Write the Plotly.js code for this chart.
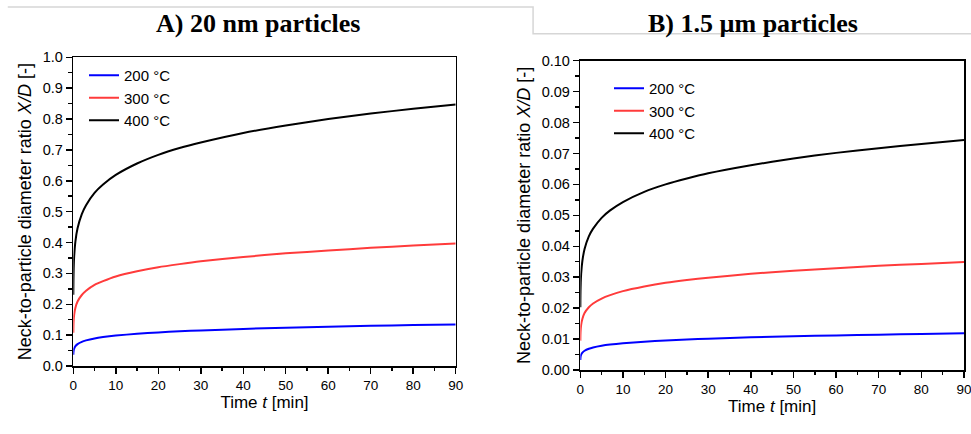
<!DOCTYPE html>
<html><head><meta charset="utf-8">
<script src="https://cdn.plot.ly/plotly-3.0.1.min.js"></script>
<style>html,body{margin:0;padding:0;background:#fff}#chart{width:971px;height:434px}</style>
</head><body><div id="chart"></div><script>
// Time [min]
const time = [0.01, 0.02, 0.05, 0.1, 0.2, 0.5, 1, 2, 3, 5, 7, 10, 15, 20, 25, 30, 40, 50, 60, 70, 80, 90];
const seriesNames = ['200 °C', '300 °C', '400 °C'];
const panelTitles = ['A) 20 nm particles', 'B) 1.5 µm particles'];
// A) 20 nm particles, X/D
const nm20_200 = [0.0367, 0.0405, 0.0462, 0.0510, 0.0563, 0.0642, 0.0709, 0.0783, 0.0829, 0.0892, 0.0936, 0.0985, 0.1044, 0.1088, 0.1123, 0.1153, 0.1201, 0.1240, 0.1273, 0.1301, 0.1326, 0.1348];
const nm20_300 = [0.108, 0.119, 0.136, 0.150, 0.166, 0.189, 0.209, 0.230, 0.244, 0.263, 0.275, 0.290, 0.307, 0.320, 0.330, 0.339, 0.353, 0.365, 0.374, 0.383, 0.390, 0.397];
const nm20_400 = [0.231, 0.255, 0.290, 0.321, 0.354, 0.404, 0.446, 0.492, 0.521, 0.561, 0.588, 0.619, 0.656, 0.684, 0.706, 0.724, 0.755, 0.779, 0.800, 0.818, 0.833, 0.847];
// B) 1.5 µm particles, X/D
const um15_200 = [0.00323, 0.00356, 0.00406, 0.00448, 0.00495, 0.00564, 0.00623, 0.00688, 0.00729, 0.00784, 0.00823, 0.00866, 0.00917, 0.00956, 0.00987, 0.01013, 0.01055, 0.01089, 0.01118, 0.01143, 0.01165, 0.01185];
const um15_300 = [0.0095, 0.0105, 0.0120, 0.0132, 0.0146, 0.0166, 0.0184, 0.0203, 0.0215, 0.0231, 0.0242, 0.0255, 0.0270, 0.0282, 0.0291, 0.0298, 0.0311, 0.0321, 0.0329, 0.0337, 0.0343, 0.0349];
const um15_400 = [0.0203, 0.0224, 0.0255, 0.0281, 0.0311, 0.0354, 0.0391, 0.0432, 0.0457, 0.0492, 0.0516, 0.0543, 0.0576, 0.0600, 0.0619, 0.0636, 0.0662, 0.0684, 0.0702, 0.0717, 0.0731, 0.0744];

const colors = ['#0000ff', '#ff3b3b', '#000000'];
const W = 971, H = 434;
const px = v => v / W, py = v => 1 - v / H;

function tr(y, i, xa, ya, lg) {
  return {x: time, y: y, name: seriesNames[i], type: 'scatter', mode: 'lines',
    line: {color: colors[i], width: 2, shape: 'spline', smoothing: 0.6},
    xaxis: xa, yaxis: ya, legend: lg, hoverinfo: 'skip'};
}
const data = [
  tr(nm20_200, 0, 'x', 'y', 'legend'), tr(nm20_300, 1, 'x', 'y', 'legend'), tr(nm20_400, 2, 'x', 'y', 'legend'),
  tr(um15_200, 0, 'x2', 'y2', 'legend2'), tr(um15_300, 1, 'x2', 'y2', 'legend2'), tr(um15_400, 2, 'x2', 'y2', 'legend2')
];

const xTickFont = {size: 13.5, color: '#000'};
const yTickFont = {size: 14.5, color: '#000'};
function xMain(dom, anchor) {
  return {domain: dom, anchor: anchor, range: [0, 90], tick0: 0, dtick: 10, ticks: 'outside', ticklen: 6, tickwidth: 1.5,
    tickcolor: '#000', linecolor: '#000', linewidth: 1.5, mirror: true, showgrid: false, zeroline: false,
    ticklabeloverflow: 'allow',
    minor: {ticks: 'outside', ticklen: 3.5, tickwidth: 1.5, tickcolor: '#000', dtick: 5, showgrid: false},
    tickfont: xTickFont, title: {text: 'Time <i>t</i> [min]', font: {size: 17, color: '#000'}, standoff: 2}};
}
function yMain(dom, anchor, top, fmt) {
  return {domain: dom, anchor: anchor, range: [0, top], tick0: 0, dtick: top / 10, tickformat: fmt, ticks: 'outside', ticklen: 6, tickwidth: 1.5,
    tickcolor: '#000', linecolor: '#000', linewidth: 1.5, mirror: true, showgrid: false, zeroline: false,
    ticklabeloverflow: 'allow',
    minor: {ticks: 'outside', ticklen: 3.5, tickwidth: 1.5, tickcolor: '#000', dtick: top / 20, showgrid: false},
    tickfont: yTickFont, title: {text: 'Neck-to-particle diameter ratio <i>X/D</i> [-]', font: {size: 18, color: '#000'}, standoff: 6}};
}
function xTop(over, anchor) {
  return {overlaying: over, anchor: anchor, side: 'top', range: [0, 90], tick0: 0, dtick: 10, ticks: 'inside', ticklen: 6, tickwidth: 1.5,
    tickcolor: '#000', showline: false, showticklabels: false, showgrid: false, zeroline: false,
    minor: {ticks: 'inside', ticklen: 3.5, tickwidth: 1.5, tickcolor: '#000', dtick: 5, showgrid: false}};
}
function yRight(over, anchor, top) {
  return {overlaying: over, anchor: anchor, side: 'right', range: [0, top], tick0: 0, dtick: top / 10, ticks: 'inside', ticklen: 6, tickwidth: 1.5,
    tickcolor: '#000', showline: false, showticklabels: false, showgrid: false, zeroline: false,
    minor: {ticks: 'inside', ticklen: 3.5, tickwidth: 1.5, tickcolor: '#000', dtick: top / 20, showgrid: false}};
}
const domA = {x: [px(73.3), px(455.7)], y: [py(366), py(57.3)]};
const domB = {x: [px(580.3), px(964)], y: [py(370), py(60.7)]};

const legendBase = {xanchor: 'left', yanchor: 'top', bgcolor: 'rgba(0,0,0,0)', borderwidth: 0,
  font: {size: 15, color: '#000'}, tracegroupgap: 0, itemwidth: 30};

const layout = {
  width: W, height: H, margin: {l: 0, r: 0, t: 0, b: 0}, paper_bgcolor: '#fff', plot_bgcolor: '#fff',
  font: {family: 'Liberation Sans, Arial, sans-serif', color: '#000'},
  xaxis: xMain(domA.x, 'y'), yaxis: yMain(domA.y, 'x', 1, '.1f'),
  xaxis2: xMain(domB.x, 'y2'), yaxis2: yMain(domB.y, 'x2', 0.1, '.2f'),
  xaxis3: xTop('x', 'y'), yaxis3: yRight('y', 'x', 1),
  xaxis4: xTop('x2', 'y2'), yaxis4: yRight('y2', 'x2', 0.1),
  legend: Object.assign({x: px(84), y: py(59)}, legendBase),
  legend2: Object.assign({x: px(609), y: py(72)}, legendBase),
  annotations: [
    {text: '<b>' + panelTitles[0] + '</b>', xref: 'paper', yref: 'paper', x: px(257.5), y: py(23), showarrow: false,
      xanchor: 'center', yanchor: 'middle', font: {family: 'Liberation Serif, serif', size: 26, color: '#000'}},
    {text: '<b>' + panelTitles[1] + '</b>', xref: 'paper', yref: 'paper', x: px(752.5), y: py(23), showarrow: false,
      xanchor: 'center', yanchor: 'middle', font: {family: 'Liberation Serif, serif', size: 26, color: '#000'}}
  ],
  shapes: [
    {type: 'path', xref: 'paper', yref: 'paper', path: 'M 0.008 0.984 L 0.549 0.984 L 0.549 0.922 L 1 0.922',
      line: {color: '#d6d6d6', width: 1.5}}
  ]
};
Plotly.newPlot('chart', data, layout, {staticPlot: true, displayModeBar: false});
</script></body></html>
